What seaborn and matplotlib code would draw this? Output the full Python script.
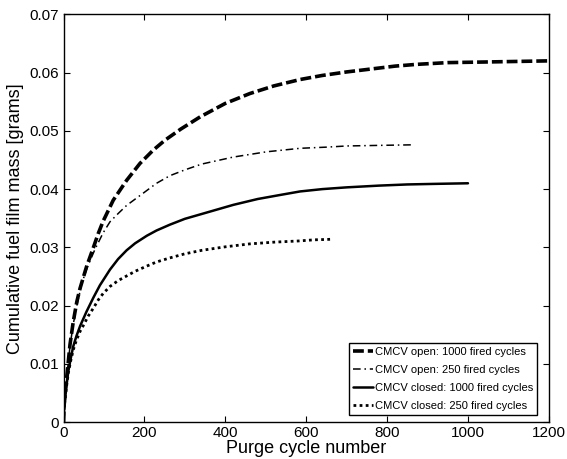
import matplotlib
matplotlib.use("Agg")
import matplotlib.pyplot as plt
import seaborn as sns
import pandas as pd

# ---- data ----
open1000_x = [0, 2, 4, 8, 12, 16, 24, 33, 41, 57, 74, 86, 98, 123, 156, 189, 222, 251, 290, 338,
              400, 461, 520, 585, 640, 700, 760, 820, 873, 950, 1038, 1120, 1200]
open1000_y = [0, 0.0035, 0.0055, 0.0078, 0.0105, 0.0133, 0.0172, 0.0207, 0.0230, 0.0267, 0.0300,
              0.0324, 0.0345, 0.0381, 0.0415, 0.0444, 0.0467, 0.0484, 0.0503, 0.0524,
              0.0547, 0.0564, 0.0577, 0.0588, 0.0595, 0.0601, 0.0606, 0.0611, 0.0614,
              0.0617, 0.0618, 0.0619, 0.0620]

open250_x = [0, 2, 4, 8, 12, 16, 24, 33, 45, 60, 78, 98, 115, 135, 156, 197, 230, 263, 300, 342,
             420, 502, 585, 650, 700, 780, 865]
open250_y = [0, 0.0035, 0.0055, 0.0078, 0.0104, 0.0130, 0.0168, 0.0200, 0.0238, 0.0268, 0.0297,
             0.0325, 0.0344, 0.0358, 0.0372, 0.0393, 0.0410, 0.0423, 0.0433, 0.0443,
             0.0455, 0.0464, 0.0470, 0.0472, 0.0474, 0.0475, 0.0476]

closed1000_x = [0, 1, 4, 8, 12, 18, 24, 32, 41, 57, 74, 90, 115, 135, 156, 177, 206, 230, 263, 300,
                350, 420, 480, 536, 585, 640, 700, 780, 850, 920, 1000]
closed1000_y = [0, 0.0020, 0.0040, 0.0066, 0.0088, 0.0110, 0.0130, 0.0148, 0.0165, 0.0190, 0.0214,
                0.0235, 0.0262, 0.0280, 0.0295, 0.0307, 0.0320, 0.0329, 0.0339, 0.0349,
                0.0359, 0.0373, 0.0383, 0.0390, 0.0396, 0.0400, 0.0403, 0.0406, 0.0408,
                0.0409, 0.0410]

closed250_x = [0, 1, 4, 8, 12, 18, 24, 32, 41, 49, 61, 74, 86, 98, 115, 135, 156, 177, 206, 230,
               263, 300, 342, 400, 460, 520, 580, 620, 665]
closed250_y = [0, 0.0020, 0.0040, 0.0064, 0.0085, 0.0106, 0.0124, 0.0141, 0.0156, 0.0166, 0.0182,
               0.0196, 0.0210, 0.0221, 0.0233, 0.0243, 0.0251, 0.0259, 0.0268, 0.0275,
               0.0282, 0.0289, 0.0295, 0.0301, 0.0306, 0.0309, 0.0311, 0.0313, 0.0314]

labels = ["CMCV open: 1000 fired cycles", "CMCV open: 250 fired cycles",
          "CMCV closed: 1000 fired cycles", "CMCV closed: 250 fired cycles"]
x_ticks = [0, 200, 400, 600, 800, 1000, 1200]
y_ticks = [0, 0.01, 0.02, 0.03, 0.04, 0.05, 0.06, 0.07]
y_ticklabels = ["0", "0.01", "0.02", "0.03", "0.04", "0.05", "0.06", "0.07"]

sns.set_style("ticks")
plt.rcParams["font.family"] = ["Liberation Sans", "DejaVu Sans"]
plt.rcParams["text.color"] = "black"
plt.rcParams["axes.labelcolor"] = "black"

fig = plt.figure(figsize=(5.67, 4.59), dpi=100)
ax = fig.add_axes([0.112, 0.080, 0.856, 0.889])

series = [
    (open1000_x, open1000_y, labels[0], dict(lw=2.6, dashes=(3.0, 1.1))),
    (open250_x, open250_y, labels[1], dict(lw=1.1, dashes=(5, 2.5, 1, 2.5))),
    (closed1000_x, closed1000_y, labels[2], dict(lw=1.8, dashes=())),
    (closed250_x, closed250_y, labels[3], dict(lw=2.0, dashes=(1, 1.2))),
]
for xs, ys, lab, st in series:
    df = pd.DataFrame({"x": xs, "y": ys})
    sns.lineplot(data=df, x="x", y="y", ax=ax, color="black", label=lab,
                 linewidth=st["lw"], sort=True, estimator=None)
    ln = ax.get_lines()[-1]
    if st["dashes"]:
        ln.set_dashes(st["dashes"])
    else:
        ln.set_linestyle("-")
    ln.set_solid_joinstyle("round")
    ln.set_dash_joinstyle("round")

ax.set_xlim(0, 1200)
ax.set_ylim(0, 0.07)
ax.set_xticks(x_ticks)
ax.set_xticklabels([str(t) for t in x_ticks])
ax.set_yticks(y_ticks)
ax.set_yticklabels(y_ticklabels)
ax.tick_params(direction="in", length=4, width=0.8, top=True, right=True,
               labelsize=11, pad=3, colors="black", labelcolor="black")
for s in ax.spines.values():
    s.set_visible(True)
    s.set_linewidth(1.0)
    s.set_color("black")

ax.set_xlabel("Purge cycle number", fontsize=13, labelpad=0, color="black")
ax.set_ylabel("Cumulative fuel film mass [grams]", fontsize=13, labelpad=4, color="black")

leg = ax.legend(loc="lower right", bbox_to_anchor=(0.975, 0.018), borderaxespad=0,
                fontsize=8, frameon=True, fancybox=False,
                edgecolor="black", framealpha=1, handlelength=1.8,
                handletextpad=0.15, borderpad=0.35, labelspacing=0.72)
leg.get_frame().set_linewidth(1.0)
for t in leg.get_texts():
    t.set_color("black")

fig.savefig("out.png", dpi=100)
